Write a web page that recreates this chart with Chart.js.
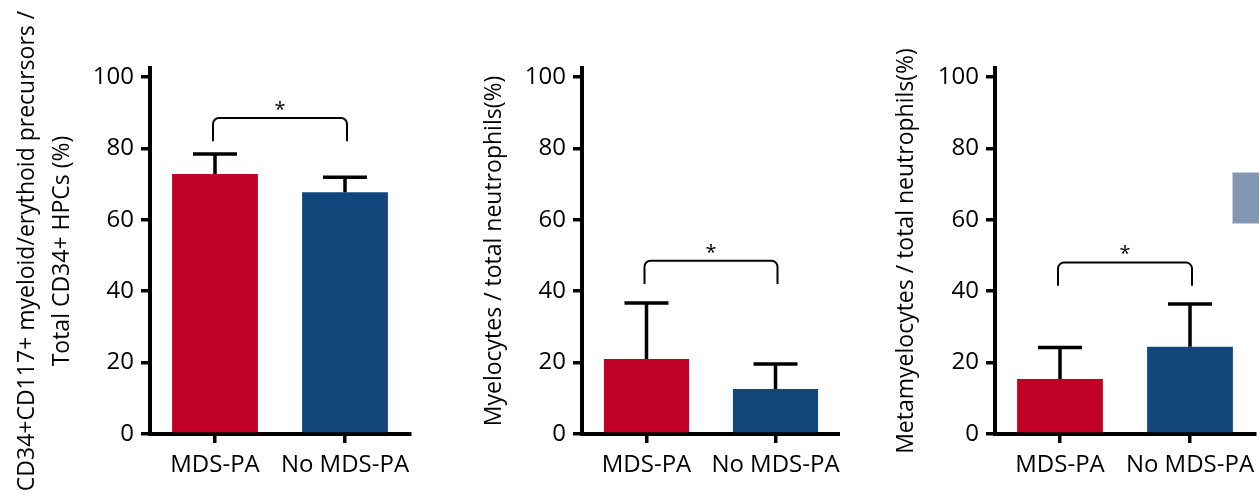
<!DOCTYPE html>
<html>
<head>
<meta charset="utf-8">
<script src="https://cdn.jsdelivr.net/npm/chart.js@4.4.0/dist/chart.umd.min.js"></script>
<style>
  html, body { margin: 0; padding: 0; background: #fff; }
  body { position: relative; width: 1259px; height: 499px; overflow: hidden; }
  canvas { position: absolute; top: 0; }
  #nextPanelKey { position: absolute; left: 1233px; top: 173px; width: 26px; height: 50px;
                  background: #8297b1; box-shadow: 0 0 0 1px #c4cedb; }
</style>
</head>
<body>
<canvas id="hpc" width="420" height="499" style="left:0px"></canvas>
<canvas id="myelo" width="420" height="499" style="left:420px"></canvas>
<canvas id="meta" width="419" height="499" style="left:840px"></canvas>
<div id="nextPanelKey"></div>
<script>
const groups = ['MDS-PA', 'No MDS-PA'];
const barColors = ['#c00026', '#12477b'];

// mean and SD (%) per group
const hpcMean = [72.8, 67.7];
const hpcSD = [5.6, 4.2];
const myeloMean = [21.0, 12.6];
const myeloSD = [15.7, 7.0];
const metaMean = [15.4, 24.4];
const metaSD = [8.8, 12.0];

// y position of the significance bracket (in %)
const bracketLevels = [88.5, 48.5, 48.0];
const yTicks = [0, 20, 40, 60, 80, 100];

Chart.defaults.font.family = '"Open Sans", sans-serif';
Chart.defaults.color = '#000';

const errorBars = {
  id: 'errorBars',
  afterDatasetsDraw(chart, args, opts) {
    const { ctx, scales: { y } } = chart;
    const ds = chart.data.datasets[0];
    ctx.save();
    ctx.strokeStyle = '#000';
    ctx.lineWidth = 3.5;
    chart.getDatasetMeta(0).data.forEach((bar, i) => {
      const base = y.getPixelForValue(ds.data[i]);
      const top = y.getPixelForValue(ds.data[i] + opts.sd[i]);
      ctx.beginPath();
      ctx.moveTo(bar.x, base);
      ctx.lineTo(bar.x, top);
      ctx.moveTo(bar.x - 22, top);
      ctx.lineTo(bar.x + 22, top);
      ctx.stroke();
    });
    ctx.restore();
  }
};

const sigBracket = {
  id: 'sigBracket',
  afterDraw(chart, args, opts) {
    const { ctx, scales: { x, y } } = chart;
    const x1 = x.getPixelForValue(0) - 2;
    const x2 = x.getPixelForValue(1) + 2;
    const top = y.getPixelForValue(opts.level);
    const foot = y.getPixelForValue(opts.level - 6.5);
    const r = 6;
    ctx.save();
    ctx.strokeStyle = '#000';
    ctx.lineWidth = 2;
    ctx.beginPath();
    ctx.moveTo(x1, foot);
    ctx.arcTo(x1, top, x1 + r, top, r);
    ctx.arcTo(x2, top, x2, top + r, r);
    ctx.lineTo(x2, foot);
    ctx.stroke();
    ctx.fillStyle = '#000';
    ctx.font = '20px "Open Sans", sans-serif';
    ctx.textAlign = 'center';
    ctx.textBaseline = 'middle';
    ctx.fillText('*', (x1 + x2) / 2, top - 8);
    ctx.restore();
  }
};

function makePanel(canvasId, means, sds, title, level, layout) {
  new Chart(document.getElementById(canvasId), {
    type: 'bar',
    data: {
      labels: groups,
      datasets: [{
        data: means,
        backgroundColor: barColors,
        borderWidth: 0,
        categoryPercentage: 1,
        barPercentage: 0.66
      }]
    },
    options: {
      responsive: false,
      animation: false,
      events: [],
      layout: { padding: { top: 68, right: layout.padRight, left: 0, bottom: 0 } },
      plugins: {
        legend: { display: false },
        tooltip: { enabled: false },
        errorBars: { sd: sds },
        sigBracket: { level: level }
      },
      scales: {
        x: {
          grid: { display: true, drawOnChartArea: false, offset: false, color: '#000',
                  lineWidth: 3.5, tickLength: 9 },
          border: { color: '#000', width: 4 },
          ticks: { font: { size: 24 }, padding: 8, maxRotation: 0, autoSkip: false },
          afterFit(scale) {
            scale.height = 65;
            // let the last label run to the edge instead of shrinking the plot
            scale.paddingLeft = 0;
            scale.paddingRight = 0;
          }
        },
        y: {
          min: 0,
          max: 102.5,
          afterBuildTicks(scale) { scale.ticks = yTicks.map(v => ({ value: v })); },
          grid: { display: true, drawOnChartArea: false, color: '#000', lineWidth: 3.5, tickLength: 9 },
          border: { color: '#000', width: 4 },
          ticks: { font: { size: 24 }, padding: 7 },
          title: {
            display: true,
            text: title,
            font: { size: 23, lineHeight: 1.52 },
            padding: { top: layout.titlePad, bottom: 0 }
          },
          afterFit(scale) { scale.width = layout.axisWidth; }
        }
      }
    },
    plugins: [errorBars, sigBracket]
  });
}

makePanel('hpc', hpcMean, hpcSD,
  ['CD34+CD117+ myeloid/erythoid precursors /', 'Total CD34+ HPCs (%)'],
  bracketLevels[0], { axisWidth: 150, titlePad: 10, padRight: 10 });
makePanel('myelo', myeloMean, myeloSD,
  'Myelocytes / total neutrophils(%)',
  bracketLevels[1], { axisWidth: 162, titlePad: 57, padRight: 0 });
makePanel('meta', metaMean, metaSD,
  'Metamyelocytes / total neutrophils(%)',
  bracketLevels[2], { axisWidth: 155, titlePad: 49, padRight: 4 });
</script>
</body>
</html>
